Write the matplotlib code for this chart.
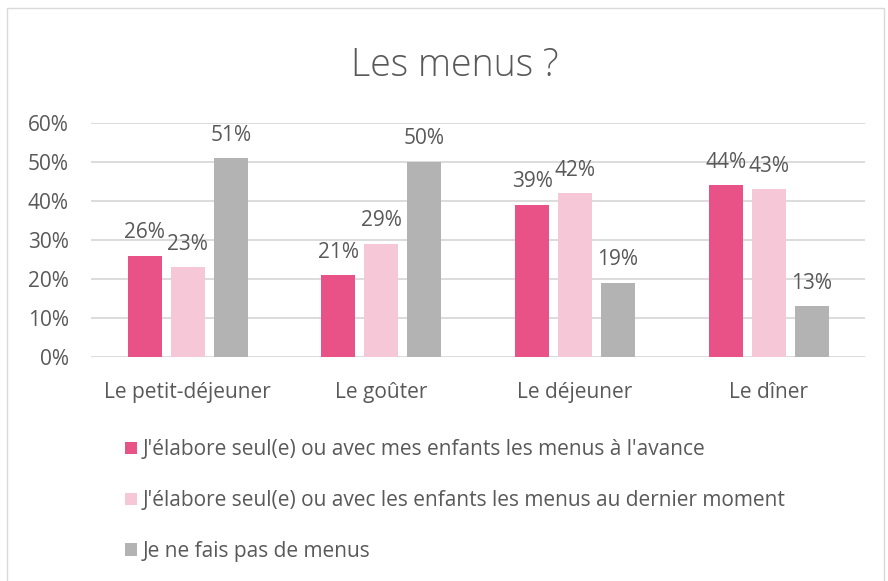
import numpy as np
from matplotlib import pyplot as plt
from matplotlib.patches import Rectangle
from matplotlib.ticker import PercentFormatter

categories = ['Le petit-déjeuner', 'Le goûter', 'Le déjeuner', 'Le dîner']
series_names = [
    "J'élabore seul(e) ou avec mes enfants les menus à l'avance",
    "J'élabore seul(e) ou avec les enfants les menus au dernier moment",
    'Je ne fais pas de menus',
]
avance = [26, 21, 39, 44]
dernier_moment = [23, 29, 42, 43]
pas_de_menus = [51, 50, 19, 13]
colors = ['#E85286', '#F6C8D7', '#B3B3B3']

plt.rcParams['font.family'] = ['Open Sans', 'DejaVu Sans']
text_color = '#595959'
fs = 15

fig = plt.figure(figsize=(8.88, 5.81), dpi=100)
ax = fig.add_axes([0.1025, 0.3855, 0.872, 0.403])

x = np.arange(len(categories))
pitch = 0.222
width = 0.176
for i, (vals, name, c) in enumerate(zip([avance, dernier_moment, pas_de_menus], series_names, colors)):
    pos = x + (i - 1) * pitch
    bars = ax.bar(pos, vals, width=width, color=c, label=name, zorder=3)
    for b, v in zip(bars, vals):
        ax.annotate(f'{v}%', (b.get_x() + b.get_width() / 2, v), xytext=(0, 9),
                    textcoords='offset points', ha='center', va='bottom',
                    fontsize=fs, color=text_color)

ax.set_xlim(-0.5, 3.5)
ax.set_ylim(0, 60)
ax.set_yticks(range(0, 61, 10))
ax.yaxis.set_major_formatter(PercentFormatter(decimals=0))
ax.set_xticks(x)
ax.set_xticklabels(categories)
ax.grid(axis='y', color='#D9D9D9', linewidth=1.3, zorder=0)
for s in ax.spines.values():
    s.set_visible(False)
ax.tick_params(length=0, labelsize=fs, labelcolor=text_color)
ax.tick_params(axis='x', pad=18)
ax.tick_params(axis='y', pad=16)

fig.text(0.512, 0.887, 'Les menus ?', ha='center', va='center', fontsize=27,
         fontweight='light', color=text_color)

leg = fig.legend(loc='upper left', bbox_to_anchor=(0.1315, 0.258), frameon=False,
                 fontsize=fs, labelcolor=text_color, handlelength=0.55,
                 handleheight=0.55, handletextpad=0.3, labelspacing=1.43,
                 borderaxespad=0)

fig.patches.append(Rectangle((0.008, -0.01), 0.988, 0.996, transform=fig.transFigure,
                             fill=False, edgecolor='#D9D9D9', linewidth=1))

fig.savefig('out.png', dpi=100)
